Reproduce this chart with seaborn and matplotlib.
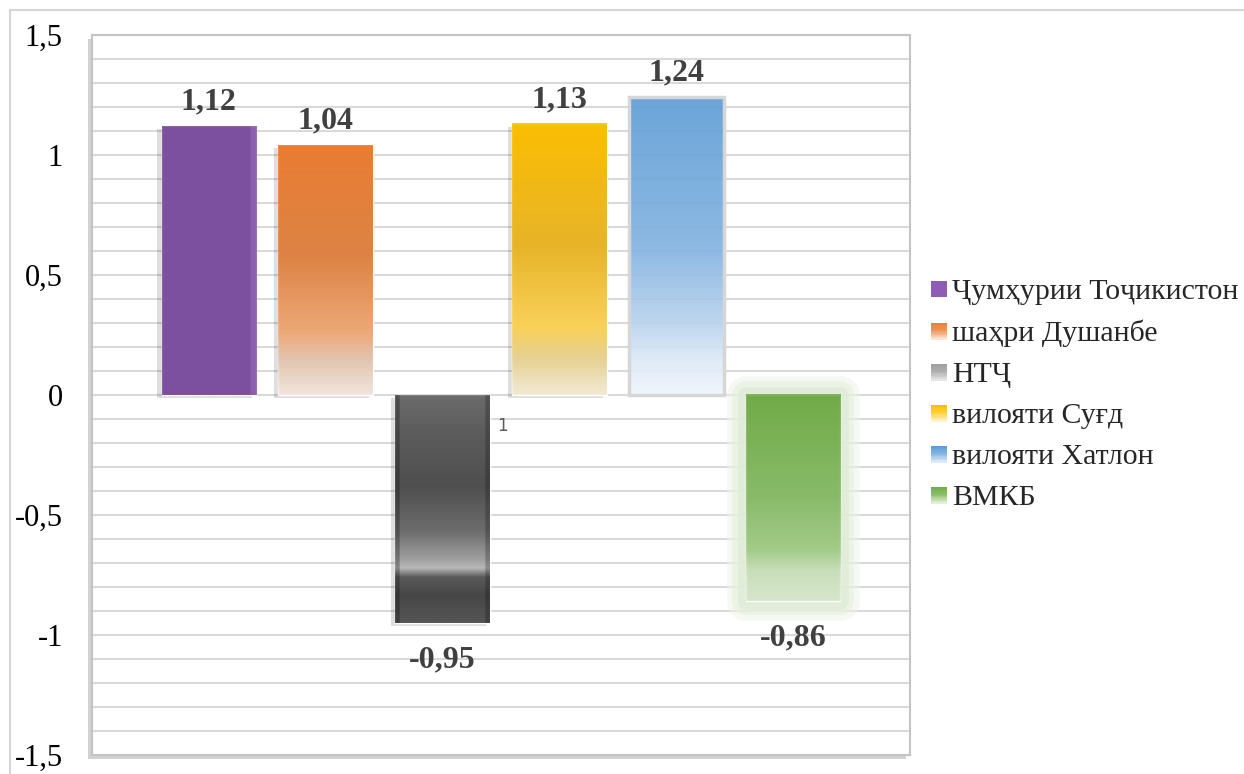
import numpy as np
import pandas as pd
import seaborn as sns
import matplotlib.pyplot as plt
import matplotlib.patheffects as pe
from matplotlib.colors import to_rgb
from matplotlib.lines import Line2D
from matplotlib.patches import Rectangle
from matplotlib.legend_handler import HandlerBase

# data
regions = ['Ҷумҳурии Тоҷикистон', 'шаҳри Душанбе', 'НТҶ',
           'вилояти Суғд', 'вилояти Хатлон', 'ВМКБ']
values = [1.12, 1.04, -0.95, 1.13, 1.24, -0.86]
value_labels = ['1,12', '1,04', '-0,95', '1,13', '1,24', '-0,86']
ytick_values = [-1.5, -1, -0.5, 0, 0.5, 1, 1.5]
ytick_labels = ['-1,5', '-1', '-0,5', '0', '0,5', '1', '1,5']
base_colors = ['#7E4FA1', '#ED7D31', '#595959', '#FFC000', '#5B9BD5', '#70AD47']

# gradient stops, from visual top of each bar to its visual bottom
gradients = [
    [(0, '#7E4FA1'), (1, '#7E4FA1')],
    [(0, '#EC7C30'), (0.45, '#DE8446'), (0.75, '#F0AE7E'), (0.86, '#E4CDBC'), (1, '#F5F1EE')],
    [(0, '#6E6E6E'), (0.15, '#5E5E5E'), (0.4, '#4E4E4E'), (0.6, '#707070'), (0.72, '#A8A8A8'),
     (0.76, '#C4C4C4'), (0.8, '#5A5A5A'), (0.88, '#454545'), (1, '#555555')],
    [(0, '#FFC000'), (0.45, '#E9B52A'), (0.75, '#FDD560'), (0.86, '#E8D49C'), (1, '#F4F1EA')],
    [(0, '#5B9BD5'), (0.5, '#80B1E0'), (0.75, '#B5D0ED'), (0.88, '#DCE8F6'), (1, '#EFF5FC')],
    [(0, '#70AD47'), (0.5, '#8CBE6C'), (0.75, '#A8D08E'), (0.86, '#D4E6C8'), (1, '#E2EFDA')],
]
legend_gradients = [
    [(0, '#8E5CB5'), (1, '#8E5CB5')],
    [(0, '#ED7D31'), (0.5, '#F09A60'), (1, '#FBE5D6')],
    [(0, '#A0A0A0'), (0.5, '#B0B0B0'), (1, '#E6E6E6')],
    [(0, '#FFC000'), (0.5, '#FFD040'), (1, '#FFF2CC')],
    [(0, '#5B9BD5'), (0.5, '#85B5E2'), (1, '#DEEBF7')],
    [(0, '#70AD47'), (0.5, '#8CC068'), (1, '#E2EFDA')],
]


def make_gradient(stops, n):
    pos = [s[0] for s in stops]
    cols = np.array([to_rgb(s[1]) for s in stops])
    t = np.linspace(0, 1, n)
    return np.stack([np.interp(t, pos, cols[:, k]) for k in range(3)], axis=1)


class GradientHandler(HandlerBase):
    def __init__(self, stops):
        super().__init__()
        self.stops = stops

    def create_artists(self, legend, orig_handle, xdescent, ydescent,
                       width, height, fontsize, trans):
        n = 14
        cols = make_gradient(self.stops, n)
        side = min(width, height)
        artists = []
        for i in range(n):
            y = -ydescent + side * (1 - (i + 1) / n)
            artists.append(Rectangle((-xdescent, y), side, side / n + 0.3,
                                     facecolor=cols[i], edgecolor='none',
                                     transform=trans))
        return artists


df = pd.DataFrame({'region': regions, 'value': values})

sns.set_style('white')
plt.rcParams['font.family'] = ['Liberation Serif', 'DejaVu Serif']

fig = plt.figure(figsize=(12.44, 7.74), dpi=100)
ax = fig.add_axes([92 / 1244, 1 - 755 / 774, 818 / 1244, 720 / 774])

sns.barplot(data=df, x='region', y='value', hue='region', order=regions,
            hue_order=regions, palette=base_colors, width=0.81, legend=False,
            ax=ax, zorder=2)

# frame round the page
fig.add_artist(Line2D([10 / 1244, 1], [1 - 10 / 774, 1 - 10 / 774], color='#D6D6D6',
                      lw=1.5, transform=fig.transFigure))
fig.add_artist(Line2D([10 / 1244, 10 / 1244], [0, 1 - 10 / 774], color='#D6D6D6',
                      lw=1.5, transform=fig.transFigure))

# bars: gradient images over the seaborn rectangles
bars = ax.patches[:len(values)]
for i, bar in enumerate(bars):
    x0, w = bar.get_x(), bar.get_width()
    y0, h = bar.get_y(), bar.get_height()
    top, bottom = max(y0, y0 + h), min(y0, y0 + h)
    col = make_gradient(gradients[i], 200)
    img = np.repeat(col[:, None, :], 60, axis=1)
    alpha = np.full((200, 60, 1), 0.9)
    if i == 2:
        edge = np.ones(60)
        edge[:3] = 0.7
        edge[-3:] = 0.75
        img = img * edge[None, :, None]
    if i == 0:
        img[:, -4:, :] = np.clip(img[:, -4:, :] + 0.07, 0, 1)
    rgba = np.concatenate([img, alpha], axis=2)
    ax.imshow(rgba, extent=[x0, x0 + w, bottom, top], origin='upper',
              aspect='auto', zorder=2.5, interpolation='bilinear')
    if i == 5:
        bar.set_path_effects([
            pe.Stroke(linewidth=28, foreground='#EEF5E9', alpha=0.5, joinstyle='round'),
            pe.Stroke(linewidth=20, foreground='#E5F0DD', alpha=0.6, joinstyle='round'),
            pe.Stroke(linewidth=12, foreground='#DDEBD3', alpha=0.7, joinstyle='round'),
            pe.Normal()])
    elif i == 4:
        bar.set_edgecolor('#D6D6D6')
        bar.set_linewidth(2.5)
        bar.set_zorder(2.6)
        bar.set_facecolor('none')
    else:
        bar.set_path_effects([pe.SimplePatchShadow(offset=(-3, -2), shadow_rgbFace='black',
                                                   alpha=0.13), pe.Normal()])

    xc = x0 + w / 2
    v = values[i]
    if v >= 0:
        ax.annotate(value_labels[i], (xc, v), xytext=(0, 7), textcoords='offset points',
                    ha='center', va='bottom', fontsize=23, fontweight='bold', color='#404040')
    else:
        ax.annotate(value_labels[i], (xc, v), xytext=(0, -16), textcoords='offset points',
                    ha='center', va='top', fontsize=23, fontweight='bold', color='#404040')

# stray label beside the grey bar
gray = bars[2]
ax.annotate('1', (gray.get_x() + gray.get_width(), 0), xytext=(5, -22),
            textcoords='offset points', ha='left', va='center', fontsize=12,
            color='#595959', family='DejaVu Sans', zorder=5)

ax.set_xlim(-1, 6)
ax.set_ylim(-1.5, 1.5)
ax.set_yticks(ytick_values)
ax.set_yticklabels(ytick_labels)
ax.set_yticks(np.arange(-15, 16) / 10, minor=True)
ax.grid(which='both', axis='y', color='#D9D9D9', lw=1.5)
ax.grid(axis='x', visible=False)
ax.set_axisbelow(True)
ax.tick_params(axis='y', which='both', length=0, pad=21, labelsize=22, labelcolor='black')
ax.tick_params(axis='x', length=0, labelbottom=False)
ax.set_xlabel('')
ax.set_ylabel('')
for s in ax.spines.values():
    s.set_color('#C4C4C4')
    s.set_linewidth(1.5)
ax.patch.set_path_effects([pe.SimplePatchShadow(offset=(-3, -3), alpha=0.25), pe.Normal()])

# legend with gradient swatches
handles = [Rectangle((0, 0), 1, 1) for _ in regions]
hmap = {h: GradientHandler(g) for h, g in zip(handles, legend_gradients)}
fig.legend(handles, regions, handler_map=hmap, loc='center left',
           bbox_to_anchor=(931 / 1244, 1 - 395 / 774), frameon=False, fontsize=21.5,
           handlelength=0.55, handleheight=0.55, handletextpad=0.15, labelspacing=0.5,
           borderpad=0, borderaxespad=0)

fig.savefig('out.png', dpi=100)
